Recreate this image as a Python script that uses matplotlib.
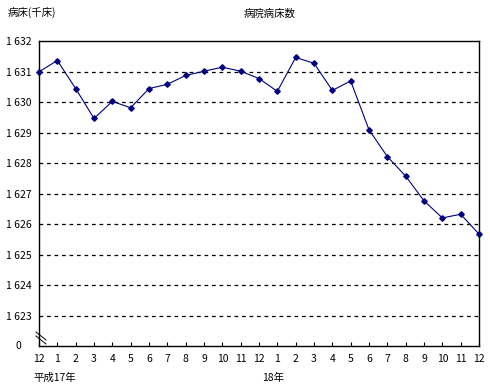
import matplotlib.pyplot as plt
import numpy as np

plt.rcParams['font.family'] = ['Noto Sans CJK JP', 'DejaVu Sans']

# months: 平成16年12月 .. 平成18年12月
months = ['12', '1', '2', '3', '4', '5', '6', '7', '8', '9', '10', '11', '12',
          '1', '2', '3', '4', '5', '6', '7', '8', '9', '10', '11', '12']
beds = [1630.99, 1631.36, 1630.44, 1629.46, 1630.02, 1629.81, 1630.44, 1630.58,
        1630.87, 1631.01, 1631.14, 1631.01, 1630.77, 1630.35, 1631.46, 1631.27,
        1630.38, 1630.69, 1629.09, 1628.21, 1627.57, 1626.76, 1626.20, 1626.32,
        1625.67]
y_ticks = [1622, 1623, 1624, 1625, 1626, 1627, 1628, 1629, 1630, 1631, 1632]
y_labels = ['', '1 623', '1 624', '1 625', '1 626', '1 627', '1 628',
            '1 629', '1 630', '1 631', '1 632']

fig = plt.figure(figsize=(4.9, 3.91), dpi=100)
ax = fig.add_axes([39 / 490, 1 - 346 / 391, 440 / 490, 305 / 391])

x = np.arange(len(beds))
ax.plot(x, beds, color='#000080', lw=0.8, marker='D', ms=2.8, zorder=3,
        clip_on=False)

ax.set_xlim(0, len(beds) - 1)
ax.set_ylim(1622, 1632)
ax.set_yticks(y_ticks)
ax.set_yticklabels(y_labels, fontsize=7.5)
ax.set_xticks(x)
ax.set_xticklabels(months, fontsize=7.5)
# left-aligned labels starting near the figure edge
ax.tick_params(axis='y', length=0, pad=24)
ax.tick_params(axis='x', direction='in', length=3, pad=6)
for lab in ax.get_yticklabels():
    lab.set_horizontalalignment('left')

# bottom of the broken axis is labelled 0
ax.text(-0.04, 0, '0', transform=ax.transAxes, fontsize=7.5,
        ha='right', va='center')

# dashed grid lines
for v in y_ticks[1:-1]:
    ax.axhline(v, color='black', ls=(0, (3, 3)), lw=0.9, zorder=1)

for s in ax.spines.values():
    s.set_linewidth(1.0)

# axis break mark
for dy in (0, 4):
    fig.add_artist(plt.Line2D([36 / 490, 46 / 490],
                              [1 - (332 + dy) / 391, 1 - (340 + dy) / 391],
                              color='black', lw=0.7))

fig.text(8 / 490, 1 - 12 / 391, '病床(千床)', fontsize=7.5, va='center')
fig.text(270 / 490, 1 - 14 / 391, '病院病床数', fontsize=7.5, ha='center', va='center')
fig.text(33 / 490, 1 - 378 / 391, '平成17年', fontsize=7.5, va='center')
fig.text(262 / 490, 1 - 378 / 391, '18年', fontsize=7.5, va='center')

fig.savefig('out.png', dpi=100)
